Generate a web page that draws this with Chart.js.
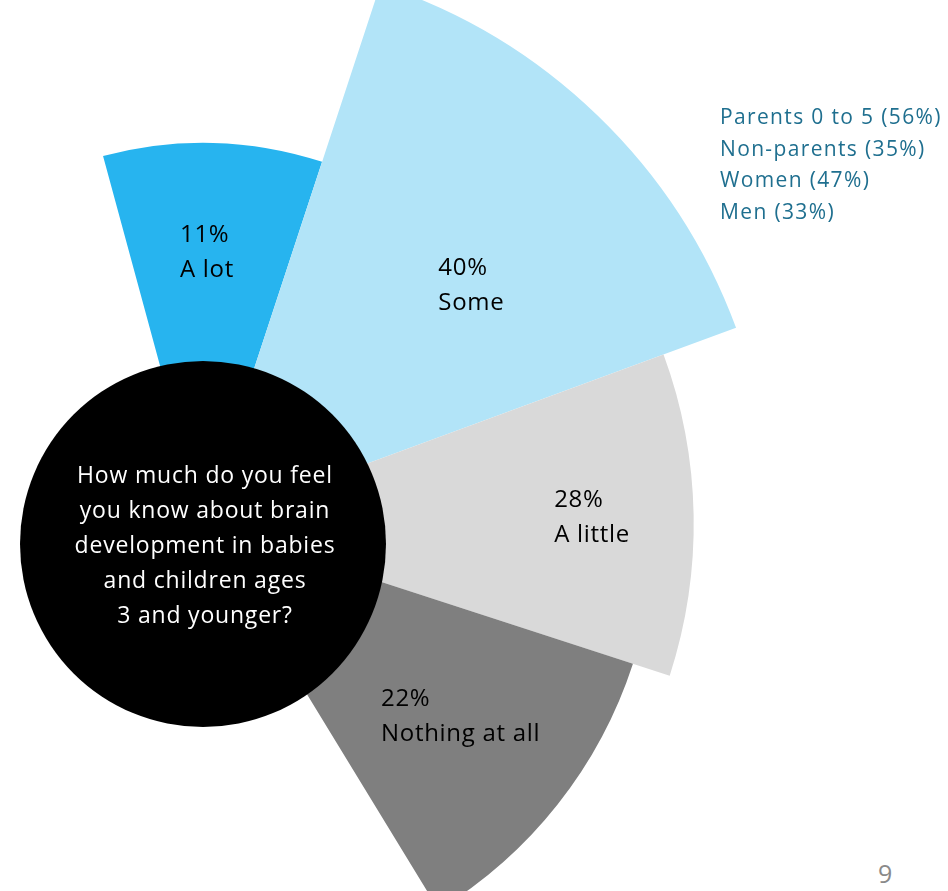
<!DOCTYPE html>
<html>
<head>
<meta charset="utf-8">
<script src="https://cdn.jsdelivr.net/npm/chart.js@4/dist/chart.umd.min.js"></script>
<style>
  html, body { margin: 0; padding: 0; background: #fff; }
  #page {
    position: relative;
    width: 948px;
    height: 891px;
    overflow: hidden;
    font-family: "Open Sans", sans-serif;
  }
  #wheel { position: absolute; left: -397px; top: -76px; }
  #hub {
    position: absolute;
    left: 20px;
    top: 361px;
    width: 366px;
    height: 366px;
    border-radius: 50%;
    background: #000;
  }
  #question {
    position: absolute;
    left: 23px;
    width: 364px;
    top: 457px;
    color: #fff;
    font-size: 23px;
    line-height: 35px;
    letter-spacing: 0.8px;
    text-align: center;
  }
  #groups {
    position: absolute;
    left: 720px;
    top: 101px;
    color: #1f6f8f;
    font-size: 21px;
    line-height: 31.7px;
    letter-spacing: 1.35px;
    white-space: nowrap;
  }
  #pageNo {
    position: absolute;
    left: 878px;
    top: 856px;
    color: #8a8a8a;
    font-size: 25px;
  }
</style>
</head>
<body>
<div id="page">
  <canvas id="wheel" width="1200" height="1200"></canvas>
  <div id="hub"></div>
  <div id="question">How much do you feel<br>you know about brain<br>development in babies<br>and children ages<br>3 and younger?</div>
  <div id="groups"></div>
  <div id="pageNo">9</div>
</div>
<script>
// answer shares (%)
const categories = ['A lot', 'Some', 'A little', 'Nothing at all'];
const shares = [11, 40, 28, 22];

// "Some" + "A lot" by subgroup
const groupNames = ['Parents 0 to 5', 'Non-parents', 'Women', 'Men'];
const groupShares = [56, 35, 47, 33];

const wedgeColors = ['#27b4ef', '#b2e4f8', '#d9d9d9', '#7f7f7f'];
const wedgeSweep = [33.4, 51.6, 38.2, 40.6];     // degrees per wedge
const labelTurn = [0.48, 0.581, 0.496, 0.456];   // label position across the wedge
const labelReach = [0.717, 0.634, 0.793, 0.709]; // label distance, share of wedge radius

document.getElementById('groups').innerHTML = groupNames
    .map((g, i) => g + ' (' + groupShares[i] + '%)')
    .join('<br>');

// value + category printed inside each wedge, left-aligned as a block
const wedgeLabels = {
    id: 'wedgeLabels',
    afterDatasetsDraw(chart) {
        const ctx = chart.ctx;
        ctx.save();
        ctx.font = '24px "Open Sans"';
        ctx.letterSpacing = '0.7px';
        ctx.fillStyle = '#000';
        ctx.textAlign = 'left';
        ctx.textBaseline = 'alphabetic';
        chart.getDatasetMeta(0).data.forEach((arc, i) => {
            const a = arc.startAngle + (arc.endAngle - arc.startAngle) * labelTurn[i];
            const dist = arc.outerRadius * labelReach[i];
            const cx = arc.x + Math.cos(a) * dist;
            const cy = arc.y + Math.sin(a) * dist;
            const lines = [shares[i] + '%', categories[i]];
            const w = Math.max(...lines.map(t => ctx.measureText(t).width));
            ctx.fillText(lines[0], cx - w / 2, cy - 8.8);
            ctx.fillText(lines[1], cx - w / 2, cy + 26.2);
        });
        ctx.restore();
    }
};

new Chart(document.getElementById('wheel'), {
    type: 'polarArea',
    data: {
        labels: categories,
        datasets: [{
            data: shares,
            backgroundColor: wedgeColors,
            borderWidth: 0,
            angle: (c) => wedgeSweep[c.dataIndex],
            clip: false
        }]
    },
    options: {
        responsive: false,
        animation: false,
        events: [],
        layout: { padding: 0 },
        scales: {
            r: {
                display: false,
                min: -48.2,
                max: 44.97,
                startAngle: -15.2
            }
        },
        plugins: {
            legend: { display: false },
            tooltip: { enabled: false }
        }
    },
    plugins: [wedgeLabels]
});
</script>
</body>
</html>
